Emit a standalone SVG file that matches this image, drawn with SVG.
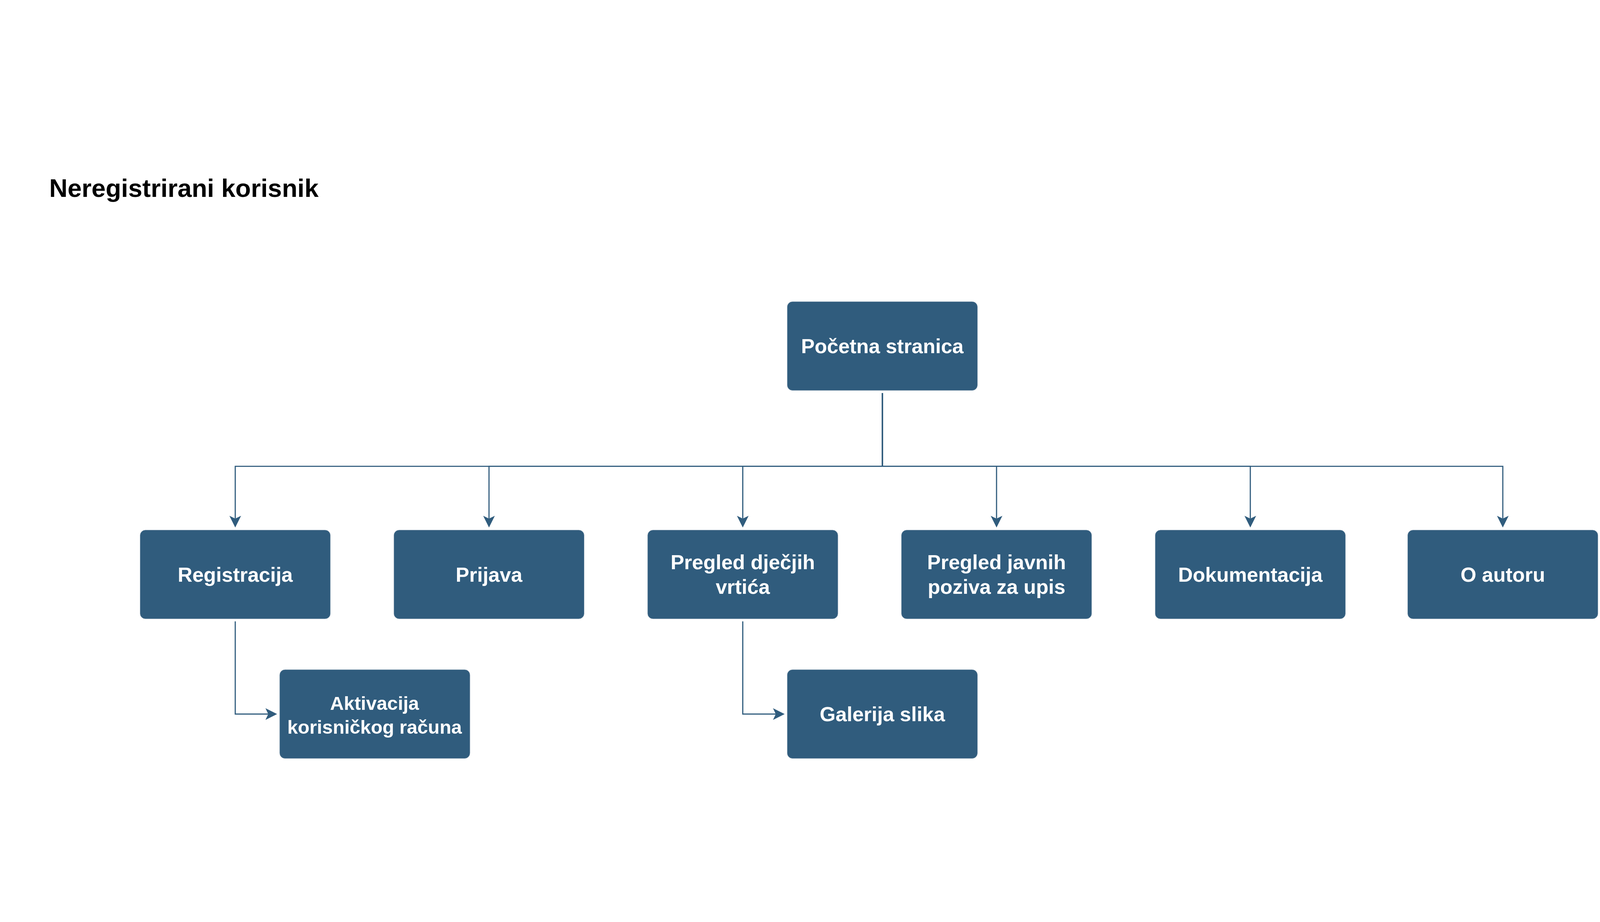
<svg xmlns="http://www.w3.org/2000/svg" width="6305" height="2360" viewBox="0 0 6305 2360">
<style>
svg{width:100vw;height:100vh}
.box{fill:#305C7D;stroke:#A9B8C6;stroke-width:1.2}
.lbl{font-family:"Liberation Sans",Arial,sans-serif;font-weight:bold;font-size:80px;fill:#FFFFFF;text-anchor:middle}
.sm{font-size:75px}
.title{font-family:"Liberation Sans",Arial,sans-serif;font-weight:bold;font-size:100px;fill:#000000}
.edge{fill:none;stroke:#305C7D;stroke-width:4.5;marker-end:url(#arr)}
</style>
<defs>
<marker id="arr" markerUnits="userSpaceOnUse" markerWidth="60" markerHeight="60" viewBox="-15 -30 60 60" refX="0" refY="0" orient="auto">
<path d="M35,0 L-11,-23 L0,0 L-11,23 Z" fill="#305C7D"/>
</marker>
</defs>
<rect width="6305" height="2360" fill="#FFFFFF"/>
<text class="title" x="194" y="140">Neregistrirani korisnik</text>
<g id="connectors">
<path class="edge" d="M3477,912 V1201 H927 V1407"/>
<path class="edge" d="M3477,912 V1201 H1927 V1407"/>
<path class="edge" d="M3477,912 V1201 H2927 V1407"/>
<path class="edge" d="M3477,912 V1201 H3927 V1407"/>
<path class="edge" d="M3477,912 V1201 H4927 V1407"/>
<path class="edge" d="M3477,912 V1201 H5922 V1407"/>
<path class="edge" d="M927,1812 V2177 H1057"/>
<path class="edge" d="M2927,1812 V2177 H3057"/>
</g>
<g id="pocetna"><rect class="box" x="3102" y="552" width="750" height="350" rx="21"/><text class="lbl" x="3477" y="755">Početna stranica</text></g>
<g id="registracija"><rect class="box" x="552" y="1452" width="750" height="350" rx="21"/><text class="lbl" x="927" y="1655">Registracija</text></g>
<g id="prijava"><rect class="box" x="1552" y="1452" width="750" height="350" rx="21"/><text class="lbl" x="1927" y="1655">Prijava</text></g>
<g id="pregled-vrtica"><rect class="box" x="2552" y="1452" width="750" height="350" rx="21"/><text class="lbl" x="2927" y="1607">Pregled dječjih</text><text class="lbl" x="2927" y="1703">vrtića</text></g>
<g id="pregled-poziva"><rect class="box" x="3552" y="1452" width="750" height="350" rx="21"/><text class="lbl" x="3927" y="1607">Pregled javnih</text><text class="lbl" x="3927" y="1703">poziva za upis</text></g>
<g id="dokumentacija"><rect class="box" x="4552" y="1452" width="750" height="350" rx="21"/><text class="lbl" x="4927" y="1655">Dokumentacija</text></g>
<g id="o-autoru"><rect class="box" x="5547" y="1452" width="750" height="350" rx="21"/><text class="lbl" x="5922" y="1655">O autoru</text></g>
<g id="aktivacija"><rect class="box" x="1102" y="2002" width="750" height="350" rx="21"/><text class="lbl sm" x="1476" y="2160">Aktivacija</text><text class="lbl sm" x="1476" y="2254">korisničkog računa</text></g>
<g id="galerija"><rect class="box" x="3102" y="2002" width="750" height="350" rx="21"/><text class="lbl" x="3477" y="2205">Galerija slika</text></g>
</svg>
